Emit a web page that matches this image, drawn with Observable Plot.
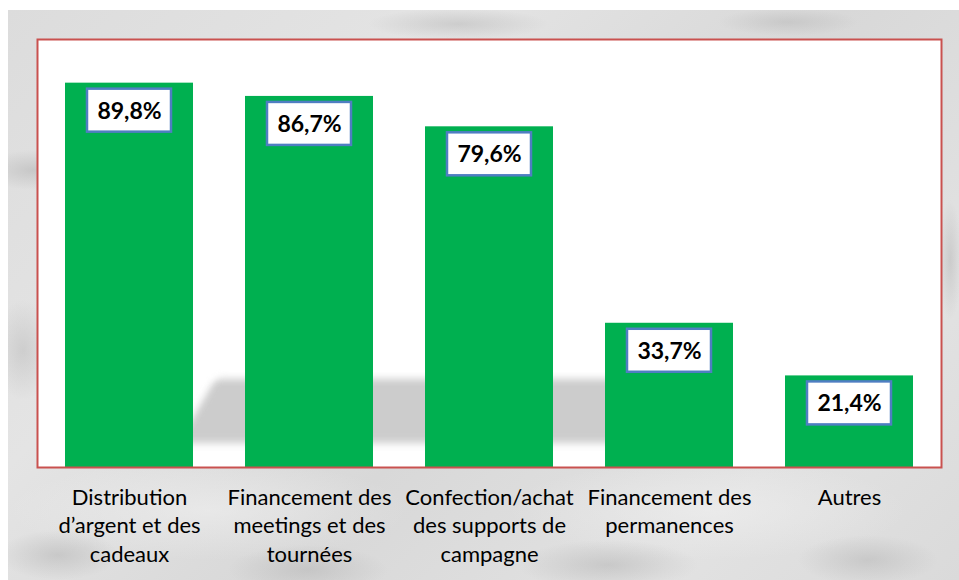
<!DOCTYPE html>
<html>
<head>
<meta charset="utf-8">
<script src="https://cdn.jsdelivr.net/npm/d3@7"></script>
<script src="https://cdn.jsdelivr.net/npm/@observablehq/plot@0.6"></script>
<style>
  html, body { margin: 0; padding: 0; background: #ffffff; }
  #wrap { position: relative; width: 959px; height: 580px; overflow: hidden; background: #ffffff; }
  #marble {
    position: absolute; left: 8px; top: 10px; right: 0; bottom: 0;
    background:
      radial-gradient(ellipse 50px 20px at 25px 160px, rgba(170,170,170,0.45), rgba(170,170,170,0) 100%),
      radial-gradient(ellipse 30px 50px at 15px 340px, rgba(175,175,175,0.4), rgba(175,175,175,0) 100%),
      radial-gradient(ellipse 60px 25px at 50px 545px, rgba(165,165,165,0.4), rgba(165,165,165,0) 100%),
      radial-gradient(ellipse 90px 16px at 450px 14px, rgba(170,170,170,0.4), rgba(170,170,170,0) 100%),
      radial-gradient(ellipse 70px 14px at 780px 12px, rgba(175,175,175,0.4), rgba(175,175,175,0) 100%),
      radial-gradient(ellipse 80px 25px at 300px 560px, rgba(170,170,170,0.4), rgba(170,170,170,0) 100%),
      radial-gradient(ellipse 90px 25px at 600px 555px, rgba(165,165,165,0.4), rgba(165,165,165,0) 100%),
      radial-gradient(ellipse 70px 25px at 860px 550px, rgba(170,170,170,0.4), rgba(170,170,170,0) 100%),
      radial-gradient(ellipse 12px 60px at 942px 250px, rgba(170,170,170,0.4), rgba(170,170,170,0) 100%),
      radial-gradient(ellipse 200px 50px at 200px 500px, rgba(240,240,240,0.6), rgba(240,240,240,0) 100%),
      radial-gradient(ellipse 200px 50px at 700px 500px, rgba(240,240,240,0.6), rgba(240,240,240,0) 100%),
      linear-gradient(135deg, #dcdcdc 0%, #e4e4e4 30%, #d8d8d8 55%, #e2e2e2 80%, #dadada 100%);
  }
  #plotbg { position: absolute; left: 37px; top: 39px; width: 904px; height: 428px; background: #ffffff; overflow: hidden; }
  #shadow {
    position: absolute; left: 160px; top: 340px; width: 440px; height: 64px;
    background: #cccccc; filter: blur(4px); transform: skewX(-30deg);
  }
  #chart { position: absolute; left: 0; top: 0; }
</style>
</head>
<body>
<div id="wrap">
  <div id="marble"></div>
  <div id="plotbg"><div id="shadow"></div></div>
  <div id="chart"></div>
</div>
<script>
const categories = [
  "Distribution\nd’argent et des\ncadeaux",
  "Financement des\nmeetings et des\ntournées",
  "Confection/achat\ndes supports de\ncampagne",
  "Financement des\npermanences",
  "Autres"
];
const values = [89.8, 86.7, 79.6, 33.7, 21.4];
const valueLabels = ["89,8%", "86,7%", "79,6%", "33,7%", "21,4%"];

const data = categories.map((c, i) => ({cat: c, value: values[i], label: valueLabels[i]}));

const chart = Plot.plot({
  width: 959,
  height: 580,
  marginLeft: 37,
  marginRight: 18,
  marginTop: 39,
  marginBottom: 113,
  style: {background: "transparent", fontFamily: "Lato, 'Open Sans', sans-serif", color: "#000"},
  x: {domain: categories, paddingInner: 0.29, paddingOuter: 0.145, axis: null},
  y: {domain: [0, 100], axis: null},
  marks: [
    Plot.barY(data, {x: "cat", y: "value", fill: "#00b050"}),
    Plot.barY(data, {
      x: "cat", y1: "value", y2: "value",
      insetLeft: 22, insetRight: 22, insetTop: 6, insetBottom: -49,
      fill: "white", stroke: "#4f7ec2", strokeWidth: 2.5
    }),
    Plot.text(data, {
      x: "cat", y: "value", text: "label", dy: 28,
      fontWeight: "bold", fontSize: 23, fill: "#000"
    }),
    Plot.axisX({
      tickSize: 0, tickPadding: 17, fontSize: 22, lineHeight: 1.3,
      fill: "#000", label: null
    }),
    Plot.frame({stroke: "#c9514f", strokeWidth: 2})
  ]
});
document.getElementById("chart").appendChild(chart);
</script>
</body>
</html>
